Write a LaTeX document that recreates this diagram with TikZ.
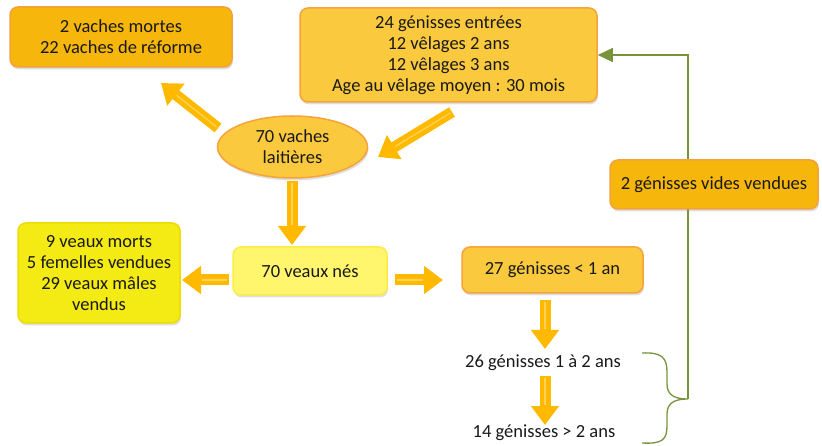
\documentclass[tikz,border=0pt]{standalone}
\usepackage{fontspec}
\setmainfont{Carlito}
\usetikzlibrary{arrows.meta,shapes.geometric,shadows}
\definecolor{orgA}{HTML}{F6B60C}
\definecolor{orgAd}{HTML}{F2A23A}
\definecolor{orgB}{HTML}{FBC93E}
\definecolor{orgBd}{HTML}{F5A33A}
\definecolor{ylwC}{HTML}{FFF66E}
\definecolor{ylwCd}{HTML}{FFEC40}
\definecolor{ylwD}{HTML}{F4EA14}
\definecolor{ylwDd}{HTML}{EDDC00}
\definecolor{arrowc}{HTML}{FFBA00}
\definecolor{arrowlight}{HTML}{FFD35A}
\definecolor{grn}{HTML}{77933C}
\tikzset{
  txt/.style={font=\fontsize{18.5}{21}\selectfont, align=center, text=black!90},
  box/.style={txt, rounded corners=8pt, line width=1.5pt, inner sep=0pt,
    drop shadow={opacity=0.25, shadow xshift=1pt, shadow yshift=-2.5pt}},
  fatarrow/.style={line width=11pt, draw=arrowc, -{Triangle[width=27pt,length=19pt]},
    postaction={draw=arrowlight, line width=1.2pt, -, shorten >=20pt, shorten <=2pt}},
  greenline/.style={draw=grn, line width=1.3pt}
}
\begin{document}
\begin{tikzpicture}[x=1pt,y=-1pt]
\useasboundingbox (0,0) rectangle (822,446);
% boxes
\node[box, fill=orgA, draw=orgAd, minimum width=222pt, minimum height=60pt] (A) at (121,37)
  {2 vaches mortes\\22 vaches de réforme};
\node[box, fill=orgB, draw=orgBd, minimum width=297pt, minimum height=94pt] (B) at (448.5,55)
  {24 génisses entrées\\12 vêlages 2 ans\\12 vêlages 3 ans\\Age au vêlage moyen : 30 mois};
\node[txt, ellipse, fill=orgB, draw=orgBd, line width=1.5pt, minimum width=150pt, minimum height=62pt, inner sep=0pt,
  drop shadow={opacity=0.25, shadow xshift=1pt, shadow yshift=-2.5pt}] (L) at (292.5,147)
  {70 vaches\\laitières};
\node[box, fill=ylwC, draw=ylwCd, minimum width=154pt, minimum height=48pt] (C) at (310,271)
  {70 veaux nés};
\node[box, fill=ylwD, draw=ylwDd, minimum width=162pt, minimum height=100pt] (D) at (99,273)
  {9 veaux morts\\5 femelles vendues\\29 veaux mâles\\vendus};
\node[box, fill=orgB, draw=orgBd, minimum width=181pt, minimum height=46pt] (E) at (552.5,270)
  {27 génisses < 1 an};
\node[txt] (G1) at (543,363) {26 génisses 1 à 2 ans};
\node[txt] (G2) at (544,433) {14 génisses > 2 ans};
% arrow end points
\coordinate (a1s) at (218,128); \coordinate (a1e) at (161,83);
\coordinate (a2s) at (452,112); \coordinate (a2e) at (378,157);
\coordinate (a3s) at (292,181); \coordinate (a3e) at (292,245);
\coordinate (a4s) at (229,280); \coordinate (a4e) at (182,280);
\coordinate (a5s) at (395,280); \coordinate (a5e) at (443,280);
\coordinate (a6s) at (545,300); \coordinate (a6e) at (545,349);
\coordinate (a7s) at (545,376); \coordinate (a7e) at (545,425);
\draw[fatarrow] (a1s) -- (a1e);
\draw[fatarrow] (a2s) -- (a2e);
\draw[fatarrow] (a3s) -- (a3e);
\draw[fatarrow] (a4s) -- (a4e);
\draw[fatarrow] (a5s) -- (a5e);
\draw[fatarrow] (a6s) -- (a6e);
\draw[fatarrow] (a7s) -- (a7e);
% brace
\coordinate (bt) at (688,399);
\coordinate (btop) at (642,353);
\coordinate (bbot) at (642,443);
\draw[greenline] (btop) .. controls (662,352) and (667,358) .. (667,372)
  -- (667,384) .. controls (667,396) and (676,399) .. (bt)
  .. controls (676,399) and (667,402) .. (667,414)
  -- (667,426) .. controls (667,440) and (662,444) .. (bbot);
\draw[greenline, -{Triangle[width=14pt,length=15pt]}] (bt) |- (B.east);
% box over the green line
\node[box, fill=orgA, draw=orgAd, minimum width=208pt, minimum height=49pt] (F) at (714,184.5)
  {2 génisses vides vendues};
\end{tikzpicture}
\end{document}
